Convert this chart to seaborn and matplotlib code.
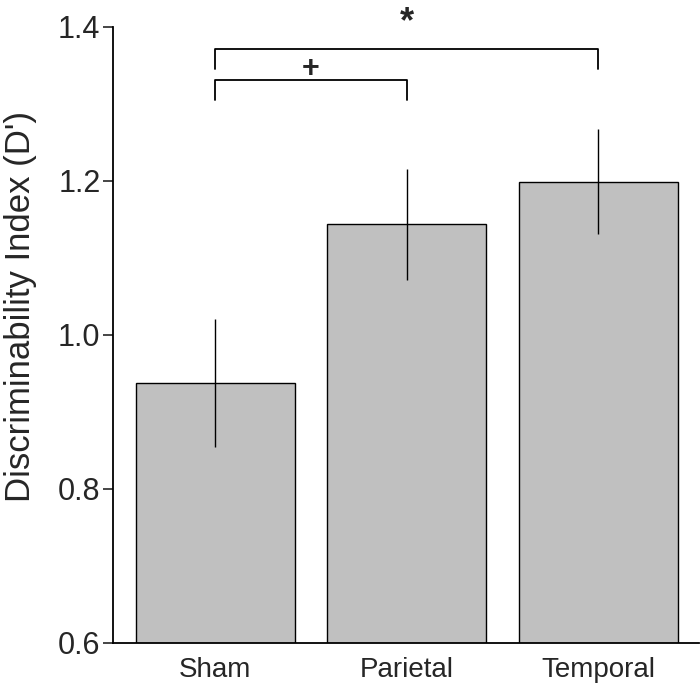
import matplotlib
matplotlib.use("Agg")
import matplotlib.pyplot as plt
import seaborn as sns
import pandas as pd

categories = ["Sham", "Parietal", "Temporal"]
means = [0.938, 1.144, 1.199]
sems = [0.083, 0.072, 0.068]
yticks = [0.6, 0.8, 1.0, 1.2, 1.4]
ylabel = "Discriminability Index (D')"
sig_pairs = [(0, 1, 1.331, "+"), (0, 2, 1.371, "*")]

sns.set_style("white")
plt.rcParams['font.family'] = ['Liberation Sans', 'DejaVu Sans']

df = pd.DataFrame({"group": categories, "value": means})

fig = plt.figure(figsize=(7, 7), dpi=100)
ax = fig.add_axes([113/700, 1 - 643/700, (699-113)/700, (643-27)/700])

sns.barplot(data=df, x="group", y="value", order=categories, color="#c0c0c0",
            edgecolor="black", linewidth=1.0, width=0.83, errorbar=None,
            saturation=1, ax=ax)
ax.errorbar(range(len(categories)), means, yerr=sems, fmt="none",
            ecolor="black", elinewidth=1.0, capsize=0)

ax.set_ylim(0.6, 1.4)
ax.set_xlim(-0.533, 2.527)
ax.set_yticks(yticks)
ax.set_yticklabels([f"{t:.1f}" for t in yticks], fontsize=22)
ax.tick_params(axis="y", direction="out", length=7, width=1.2, left=True, pad=2)
ax.tick_params(axis="x", length=0, labelsize=20, pad=10)
ax.set_xlabel("")
ax.set_ylabel(ylabel, fontsize=25)
ax.yaxis.set_label_coords((37 - 113) / 586, (643 - 307) / 616)
for s in ["top", "right"]:
    ax.spines[s].set_visible(False)
for s in ["left", "bottom"]:
    ax.spines[s].set_linewidth(1.3)
    ax.spines[s].set_color("black")

drop = 0.026
for i, j, y, lab in sig_pairs:
    ax.plot([i, i, j, j], [y - drop, y, y, y - drop], color="black", lw=1.3,
            clip_on=False)
    if lab == "*":
        ax.text((i + j) / 2, 1.405, lab, ha="center", va="center", fontsize=26,
                fontweight="bold", clip_on=False)
    else:
        ax.text((i + j) / 2, 1.346, lab, ha="center", va="center", fontsize=22,
                fontweight="bold")

fig.savefig("out.png", dpi=100)
